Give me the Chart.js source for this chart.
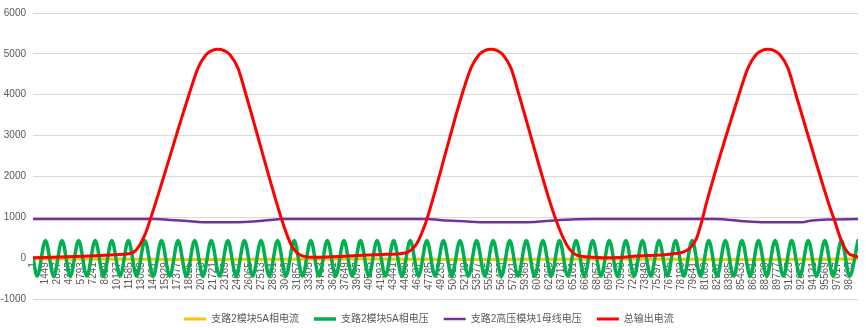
<!DOCTYPE html>
<html>
<head>
<meta charset="utf-8">
<script src="https://cdn.jsdelivr.net/npm/chart.js@4.4.1/dist/chart.umd.min.js"></script>
<style>
  html, body { margin: 0; padding: 0; background: #fff; }
  #chart { display: block; }
</style>
</head>
<body>
<canvas id="chart" width="866" height="328"></canvas>
<script>
// series names / colours
const seriesNames = ['支路2模块5A相电流', '支路2模块5A相电压', '支路2高压模块1母线电压', '总输出电流'];
const seriesColors = ['#FFC000', '#00B050', '#7030A0', '#FF0000'];

// category labels shown on the x axis (row numbers)
const xTickLabels = [
  1, 1449, 2897, 4345, 5793, 7241, 8689, 10137, 11585, 13033,
  14481, 15929, 17377, 18825, 20273, 21721, 23169, 24617, 26065, 27513,
  28961, 30409, 31857, 33305, 34753, 36201, 37649, 39097, 40545, 41993,
  43441, 44889, 46337, 47785, 49233, 50681, 52129, 53577, 55025, 56473,
  57921, 59369, 60817, 62265, 63713, 65161, 66609, 68057, 69505, 70953,
  72401, 73849, 75297, 76745, 78193, 79641, 81089, 82537, 83985, 85433,
  86881, 88329, 89777, 91225, 92673, 94121, 95569, 97017, 98465
];
const xMin = 1;
const xMax = 99500;

// 支路2模块5A相电流 (yellow)
const currentRows = [1, 15000, 22000, 30000, 40000, 48000, 55000, 63000, 72000, 81000, 88000, 96000, 99500];
const currentVals = [-20, -30, -35, -25, -20, -30, -35, -25, -20, -30, -35, -25, -20];

// 支路2模块5A相电压 (green) - peaks / troughs
const voltRows = [1,
  500, 1500, 2500, 3500, 4500, 5500, 6500, 7500, 8500, 9500,
  10500, 11500, 12500, 13500, 14500, 15500, 16500, 17500, 18500, 19500,
  20500, 21500, 22500, 23500, 24500, 25500, 26500, 27500, 28500, 29500,
  30500, 31500, 32500, 33500, 34500, 35500, 36500, 37500, 38500, 39500,
  40500, 41500, 42500, 43500, 44500, 45500, 46500, 47500, 48500, 49500,
  50500, 51500, 52500, 53500, 54500, 55500, 56500, 57500, 58500, 59500,
  60500, 61500, 62500, 63500, 64500, 65500, 66500, 67500, 68500, 69500,
  70500, 71500, 72500, 73500, 74500, 75500, 76500, 77500, 78500, 79500,
  80500, 81500, 82500, 83500, 84500, 85500, 86500, 87500, 88500, 89500,
  90500, 91500, 92500, 93500, 94500, 95500, 96500, 97500, 98500, 99500
];
const voltVals = [0,
  -440, 430, -440, 430, -440, 430, -440, 430, -440, 430,
  -440, 430, -440, 430, -440, 430, -440, 430, -440, 430,
  -440, 430, -440, 430, -440, 430, -440, 430, -440, 430,
  -440, 430, -440, 430, -440, 430, -440, 430, -440, 430,
  -440, 430, -440, 430, -440, 430, -440, 430, -440, 430,
  -440, 430, -440, 430, -440, 430, -440, 430, -440, 430,
  -440, 430, -440, 430, -440, 430, -440, 430, -440, 430,
  -440, 430, -440, 430, -440, 430, -440, 430, -440, 430,
  -440, 430, -440, 430, -440, 430, -440, 430, -440, 430,
  -440, 430, -440, 430, -440, 430, -440, 430, -440, 430
];

// 支路2高压模块1母线电压 (purple)
const busRows = [1, 14713, 16522, 18572, 20502, 24602, 26532, 28582, 30029,
  47275, 50049, 52099, 53908, 59576, 63556, 67536,
  82249, 85867, 88279, 92741, 93947, 95877, 99500];
const busVals = [955, 955, 935, 912, 880, 880, 896, 935, 955,
  955, 920, 900, 880, 880, 935, 955,
  955, 900, 880, 880, 920, 945, 955];

// 总输出电流 (red)
const totalRows = [
  1, 3256, 6874, 9889, 11457, 12060, 12663, 13507, 14231, 18814,
  19899, 20864, 21587, 22311, 23035, 23758, 24723, 25688, 29909,
  30632, 31235, 31838, 32562, 34250,
  37989, 42089, 44863, 45671, 46431, 47275, 47878, 51737,
  52823, 53788, 54511, 55235, 55959, 56682, 57647, 58612,
  62350, 63158, 63954, 64762, 65570, 67536, 69586,
  72963, 77063, 78631, 79439, 80042, 80645, 81248, 85144,
  86229, 87194, 87917, 88641, 89364, 90088, 91053, 92018,
  95913, 96721, 97529, 98325, 99133, 99500
];
const totalVals = [
  10, 30, 55, 85, 105, 135, 250, 575, 1000, 4000,
  4650, 4980, 5080, 5110, 5080, 4980, 4650, 4000, 1000,
  570, 290, 130, 50, 20,
  50, 90, 127, 208, 408, 815, 1200, 4000,
  4650, 4980, 5080, 5110, 5080, 4980, 4650, 4000,
  1370, 890, 490, 208, 72, 24, 10,
  50, 103, 168, 288, 490, 890, 1370, 4000,
  4650, 4980, 5080, 5110, 5080, 4980, 4650, 4000,
  1370, 890, 408, 127, 48, 35
];

const yMin = -1000;
const yMax = 6000;
const yStep = 1000;

function toPoints(rows, vals) {
  return rows.map((r, i) => ({ x: r, y: vals[i] }));
}

const textColor = '#595959';
const fontFamily = '"Liberation Sans", "Noto Sans CJK SC", sans-serif';

const ctx = document.getElementById('chart').getContext('2d');
const chart = new Chart(ctx, {
  type: 'line',
  data: {
    datasets: [
      {
        label: seriesNames[0],
        data: toPoints(currentRows, currentVals),
        borderColor: seriesColors[0],
        backgroundColor: seriesColors[0],
        borderWidth: 3,
        cubicInterpolationMode: 'monotone',
        order: 3
      },
      {
        label: seriesNames[1],
        data: toPoints(voltRows, voltVals),
        borderColor: seriesColors[1],
        backgroundColor: seriesColors[1],
        borderWidth: 3.5,
        cubicInterpolationMode: 'monotone',
        order: 2
      },
      {
        label: seriesNames[2],
        data: toPoints(busRows, busVals),
        borderColor: seriesColors[2],
        backgroundColor: seriesColors[2],
        borderWidth: 2.5,
        cubicInterpolationMode: 'monotone',
        order: 1
      },
      {
        label: seriesNames[3],
        data: toPoints(totalRows, totalVals),
        borderColor: seriesColors[3],
        backgroundColor: seriesColors[3],
        borderWidth: 3,
        cubicInterpolationMode: 'monotone',
        order: 0
      }
    ]
  },
  options: {
    responsive: false,
    animation: false,
    events: [],
    elements: {
      point: { radius: 0 },
      line: { borderJoinStyle: 'round', borderCapStyle: 'round', fill: false }
    },
    layout: { padding: { top: 1, right: 8, bottom: 0, left: 0 } },
    scales: {
      x: {
        type: 'linear',
        position: { y: 0 },
        min: xMin,
        max: xMax,
        afterBuildTicks: (scale) => {
          scale.ticks = xTickLabels.map(v => ({ value: v }));
        },
        grid: { display: false, drawTicks: false },
        border: { display: true, color: '#d9d9d9', width: 1 },
        ticks: {
          autoSkip: false,
          minRotation: 90,
          maxRotation: 90,
          padding: 4,
          color: textColor,
          font: { family: fontFamily, size: 10 },
          callback: (v) => String(v)
        }
      },
      y: {
        min: yMin,
        max: yMax,
        afterFit: (scale) => { scale.width = 33; },
        grid: { color: '#d9d9d9', drawTicks: false },
        border: { display: false },
        ticks: {
          stepSize: yStep,
          padding: 7,
          color: textColor,
          font: { family: fontFamily, size: 10 },
          callback: (v) => String(v)
        }
      }
    },
    plugins: {
      tooltip: { enabled: false },
      legend: {
        position: 'bottom',
        maxHeight: 29,
        labels: {
          usePointStyle: true,
          pointStyle: 'line',
          pointStyleWidth: 22,
          padding: 15,
          color: textColor,
          font: { family: fontFamily, size: 10 },
          sort: (a, b) => a.datasetIndex - b.datasetIndex
        }
      }
    }
  }
});
</script>
</body>
</html>
